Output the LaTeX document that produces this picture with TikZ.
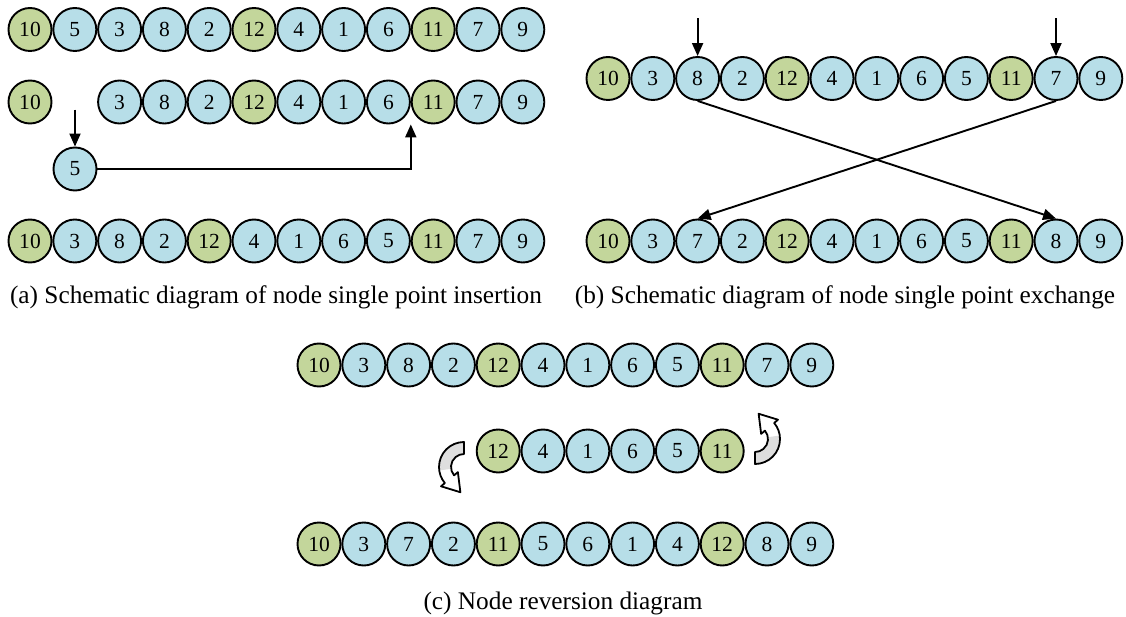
\documentclass[tikz,border=0pt]{standalone}
\usepackage{fontspec}
\setmainfont{Liberation Serif}
\usetikzlibrary{arrows.meta,calc}
\definecolor{gnode}{HTML}{C3D69B}
\definecolor{bnode}{HTML}{B7DEE8}

% one row of numbered cells; #1 name prefix, #2 x of slot 1, #3 y, #4 first slot, #5 values
\newcommand\seqrow[5]{%
  \foreach \v [count=\k from #4] in {#5}{%
    \ifnum\v>9 \def\fc{gnode}\else\def\fc{bnode}\fi
    \node[cell,fill=\fc] (#1\k) at ({#2+(\k-1)*44.8},#3) {\v};
  }}

\begin{document}
\begin{tikzpicture}[x=1pt,y=-1pt,
  cell/.style={circle,draw,line width=1.9pt,minimum size=43pt,inner sep=0pt,
    font=\fontsize{21.5}{21.5}\selectfont},
  lnk/.style={line width=1.9pt,-{Triangle[length=13pt,width=11pt]}},
  captxt/.style={font=\fontsize{25.3}{25.3}\selectfont},
  uturn/.pic={
    % ribbon bent round to the left, ending in a head
    \fill[white] (270:25) arc[start angle=270,end angle=140,radius=25]
      -- (140:30) -- ($(140:19)+(50:17)$) -- (140:8) -- (140:13)
      arc[start angle=140,end angle=270,radius=13] -- cycle;
    \fill[black!13] (270:25) arc[start angle=270,end angle=172,radius=25]
      -- (172:13) arc[start angle=172,end angle=270,radius=13] -- cycle;
    \draw[line width=1.8pt,line join=round] (270:25) arc[start angle=270,end angle=140,radius=25]
      -- (140:30) -- ($(140:19)+(50:17)$) -- (140:8) -- (140:13)
      arc[start angle=140,end angle=270,radius=13] -- cycle;
  }]
\useasboundingbox (0,0) rectangle (1126,617);

% (a) single point insertion
\seqrow{a1-}{30}{29.5}{1}{10,5,3,8,2,12,4,1,6,11,7,9}
\node[cell,fill=gnode] (a2-1) at (30,102) {10};
\seqrow{a2-}{30}{102}{3}{3,8,2,12,4,1,6,11,7,9}
\node[cell,fill=bnode] (mv) at (75,169) {5};
\seqrow{a3-}{30}{241}{1}{10,3,8,2,12,4,1,6,5,11,7,9}
\coordinate (pa) at ($(mv.north)+(0,-37)$);
\coordinate (ins) at ($(a2-9.south)!0.5!(a2-10.south)$);
\draw[lnk] (pa) -- (mv.north);
\draw[lnk] (mv.east) -| (ins);
\node[captxt] (capa) at (276,297) {(a) Schematic diagram of node single point insertion};

% (b) single point exchange
\seqrow{b1-}{608}{78.5}{1}{10,3,8,2,12,4,1,6,5,11,7,9}
\seqrow{b2-}{608}{241}{1}{10,3,7,2,12,4,1,6,5,11,8,9}
\coordinate (pb1) at ($(b1-3.north)+(0,-38)$);
\coordinate (pb2) at ($(b1-11.north)+(0,-38)$);
\draw[lnk] (pb1) -- (b1-3.north);
\draw[lnk] (pb2) -- (b1-11.north);
\draw[lnk] (b1-3.south) -- (b2-11.north);
\draw[lnk] (b1-11.south) -- (b2-3.north);
\node[captxt] (capb) at (845,297) {(b) Schematic diagram of node single point exchange};

% (c) reversion of a segment
\seqrow{c1-}{319}{365}{1}{10,3,8,2,12,4,1,6,5,11,7,9}
\seqrow{c2-}{319}{451}{5}{12,4,1,6,5,11}
\seqrow{c3-}{319}{544}{1}{10,3,7,2,11,5,6,1,4,12,8,9}
\pic at (464,467) {uturn};
\pic[rotate=180] at (755,439) {uturn};
\node[captxt] (capc) at (563,603) {(c) Node reversion diagram};
\end{tikzpicture}
\end{document}
